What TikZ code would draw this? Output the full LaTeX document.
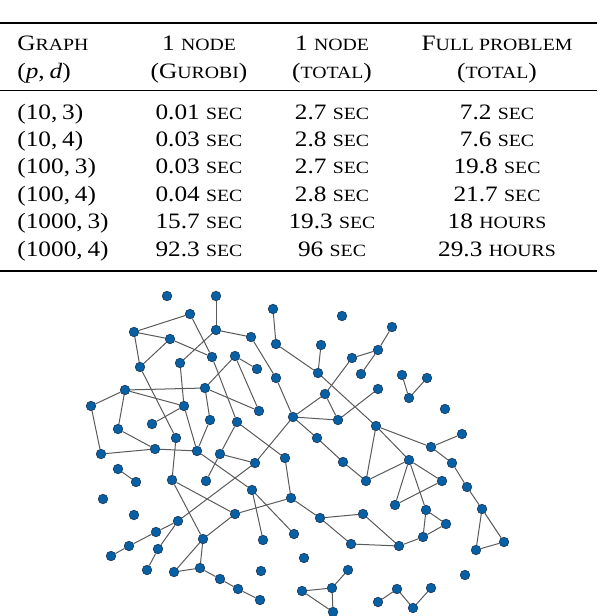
\documentclass[tikz,border=0pt]{standalone}
\usepackage{fontspec}
\setmainfont{Liberation Serif}[FakeStretch=1.15]
\usepackage{tikz}
\usetikzlibrary{backgrounds}

\definecolor{vertexblue}{RGB}{6,96,166}
\definecolor{vertexrim}{RGB}{28,52,80}
\definecolor{edgegray}{RGB}{90,90,90}
\newcommand\smcap[1]{{\fontsize{8.6pt}{10pt}\selectfont #1}}

\begin{document}
\begin{tikzpicture}[x=0.5pt, y=-0.5pt,
    vertex/.style={circle, draw=vertexrim, fill=vertexblue, line width=0.3pt, inner sep=0pt, minimum size=4.8pt},
    edge/.style={draw=edgegray, line width=0.5pt},
    cell/.style={anchor=base, inner sep=0pt, font=\fontsize{11pt}{13pt}\selectfont},
    firstcell/.style={cell, anchor=base west}
]
    \useasboundingbox (0,0) rectangle (600,616);

    % Table rules
    \draw[line width=1.1pt] (0,22.7) -- (597,22.7);
    \draw[line width=0.6pt] (0,90.7) -- (597,90.7);
    \draw[line width=1.1pt] (0,270.7) -- (597,270.7);

    % Header
    \node[firstcell] (hgraph) at (17,50) {G\smcap{RAPH}};
    \node[firstcell] (hpd) at (17,78) {(\textit{p},\kern2.4pt\textit{d})};
    \node[cell] (hgur) at (199,50) {1 \smcap{NODE}};
    \node[cell] (hgurb) at (199,78) {(G\smcap{UROBI})};
    \node[cell] (htot) at (332,50) {1 \smcap{NODE}};
    \node[cell] (htotb) at (332,78) {(\smcap{TOTAL})};
    \node[cell] (hfull) at (497,50) {F\smcap{ULL PROBLEM}};
    \node[cell] (hfullb) at (497,78) {(\smcap{TOTAL})};

    % Rows
    \foreach \r/\y/\g/\s/\t/\f in {
        1/119/{(10,\kern2.4pt3)}/0.01/2.7/{7.2 \smcap{SEC}},
        2/146.4/{(10,\kern2.4pt4)}/0.03/2.8/{7.6 \smcap{SEC}},
        3/173.8/{(100,\kern2.4pt3)}/0.03/2.7/{19.8 \smcap{SEC}},
        4/201.2/{(100,\kern2.4pt4)}/0.04/2.8/{21.7 \smcap{SEC}},
        5/228.6/{(1000,\kern2.4pt3)}/15.7/19.3/{18 \smcap{HOURS}},
        6/256/{(1000,\kern2.4pt4)}/92.3/96/{29.3 \smcap{HOURS}}}{
        \node[firstcell] (graph\r) at (17,\y) {\g};
        \node[cell] (gur\r) at (199,\y) {\s\ \smcap{SEC}};
        \node[cell] (tot\r) at (332,\y) {\t\ \smcap{SEC}};
        \node[cell] (full\r) at (497,\y) {\f};
    }

    % Graph vertices
    \foreach \n/\x/\y in {
        a1/167/296, a2/216/296, a3/273/309, a4/190/314, a5/134/332, a6/216/330,
        a7/251/337, a8/170/339, a9/276/344, a10/321/345, a11/212/357, a12/235/356,
        a13/180/363, a14/140/367, a15/257/369, a16/318/373, a17/276/378, a18/125/390,
        a19/205/388, a20/325/394, a21/91/406, a22/184/406, a23/259/411, a24/293/417,
        a25/152/424, a26/210/420, a27/237/422, a28/118/429, a29/317/438, a30/176/438,
        a31/155/449, a32/197/451,
        b1/342/316, b2/392/327, b3/378/350, b4/352/358, b5/361/374, b6/402/375,
        b7/427/378, b8/378/389, b9/409/398, b10/338/420, b11/445/409, b12/376/426,
        b13/462/434, b14/431/447,
        c1/101/454, c2/220/454, c3/285/458, c4/255/463, c5/118/469, c6/136/482,
        c7/172/480, c8/206/481, c9/252/490, c10/291/498, c11/103/499, c12/134/515,
        c13/235/514, c14/320/518, c15/178/521, c16/156/532, c17/203/539, c18/263/540,
        c19/294/534, c20/129/546, c21/158/549, c22/111/556, c23/304/558, c24/147/570,
        c25/174/572, c26/200/568, c27/220/579, c28/261/571, c29/238/589, c30/260/600,
        c31/302/591,
        d1/343/462, d2/409/460, d3/452/463, d4/366/481, d5/442/481, d6/467/487,
        d7/395/505, d8/426/510, d9/482/509, d10/363/514, d11/446/524, d12/504/542,
        d13/351/544, d14/399/546, d15/423/537, d16/476/550, d17/348/570, d18/465/575,
        d19/332/588, d20/333/612, d21/378/602, d22/397/589, d23/413/608, d24/431/588}
        \node[vertex] (\n) at (\x,\y) {};

    % Graph edges
    \begin{pgfonlayer}{background}
    \foreach \u/\v in {
        a2/a6, a3/a9, a4/a5, a4/a11, a5/a8, a8/a11, a5/a14, a14/a8, a6/a13, a6/a7,
        a7/a17, a17/a24, a9/a16, a10/a16, a16/b12, a12/a15, a12/a23, a12/a19,
        a18/a19, a18/a22, a18/a21, a18/a28, a19/a23, a19/a26, a13/a22, a22/a25,
        a14/a30, a21/c1, a28/a31, a22/a32, a26/a32, a11/a27, a27/c2, a27/c3,
        a24/a20, a24/a29, a24/b10, a24/c4, c4/c15, a31/a32, a30/c7, a31/c1,
        a32/c9, c2/c4, c2/c8,
        b2/b3, b3/b4, b3/b5, b4/a20, a20/b10, b10/b8, b6/b9, b7/b9, b12/b14,
        b14/b13, b12/d4, b12/d2,
        a29/d1, d1/d4, d4/d2, d2/d7, d2/d5, d2/d8, d5/d7, b14/d3, d3/d6, d6/d9,
        d9/d12, d9/d16, d16/d12, c14/d10, c14/d13, d10/d14, d13/d14, d14/d15,
        d15/d8, d15/d11, d8/d11, c31/d19, c31/d20, d19/d20, d19/d17, d21/d22,
        d22/d23, d23/d24,
        c5/c6, c7/c13, c7/c17, c9/c18, c9/c19, c3/c10, c10/c13, c10/c14,
        c13/c17, c15/c16, c15/c21, c16/c20, c20/c22, c21/c24, c17/c25, c17/c26,
        c25/c26, c26/c27, c27/c29, c29/c30}
        \draw[edge] (\u) -- (\v);
    \end{pgfonlayer}
\end{tikzpicture}
\end{document}
